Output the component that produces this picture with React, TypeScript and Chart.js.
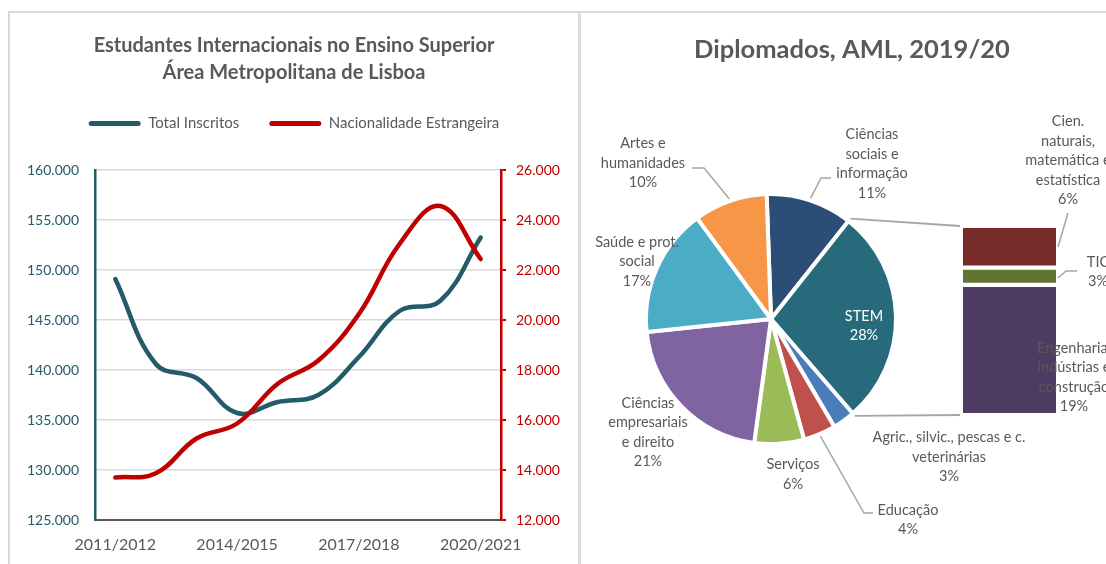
import React, { useEffect, useRef } from 'react';
import { Chart, registerables } from 'chart.js';

Chart.register(...registerables);

// ---------- Left chart data ----------
const years = [
  '2011/2012', '2012/2013', '2013/2014', '2014/2015', '2015/2016',
  '2016/2017', '2017/2018', '2018/2019', '2019/2020', '2020/2021',
];
const totalInscritos = [149100, 140600, 139200, 135700, 136800, 137500, 141300, 145900, 146900, 153250];
const nacionalidadeEstrangeira = [13700, 13870, 15260, 15860, 17450, 18380, 20240, 23040, 24560, 22440];
const leftTitle = ['Estudantes Internacionais no Ensino Superior', 'Área Metropolitana de Lisboa'];
const seriesNames = ['Total Inscritos', 'Nacionalidade Estrangeira'];
const leftAxisMin = 125000;
const leftAxisMax = 160000;
const leftAxisStep = 5000;
const rightAxisMin = 12000;
const rightAxisMax = 26000;
const rightAxisStep = 2000;

// ---------- Right chart data ----------
const rightTitle = 'Diplomados, AML, 2019/20';
const areas = [
  'Ciências\nsociais e\ninformação',
  'STEM',
  'Agric., silvic., pescas e c.\nveterinárias',
  'Educação',
  'Serviços',
  'Ciências\nempresariais\ne direito',
  'Saúde e prot.\nsocial',
  'Artes e\nhumanidades',
];
const areaShares = [11.2, 28.0, 2.9, 4.2, 6.4, 21.2, 16.6, 9.5];
const stemParts = ['Engenharia,\nindústrias e\nconstrução', 'TIC', 'Cien.\nnaturais,\nmatemática e\nestatística'];
const stemShares = [19.4, 2.6, 6.0];

// ---------- Styles ----------
const FONT = 'Lato';
const GRAY = '#595959';
const TEAL = '#245B69';
const RED = '#C00000';
const LEADER = '#A6A6A6';
const areaColors = ['#2C4D75', '#276A7B', '#4A7EBB', '#C0504D', '#9BBB59', '#8064A2', '#4BACC6', '#F79646'];
const stemColors = ['#4D3B62', '#5F7530', '#772C2A'];

const fmt = (v: number) => String(Math.round(v)).replace(/\B(?=(\d{3})+(?!\d))/g, '.');
const sum = (a: number[]) => a.reduce((s, v) => s + v, 0);

// label layout relative to pie centre (px)
const pieLabelLayout: { dx: number; dy: number; color?: string; leader?: number[][] }[] = [
  { dx: 101, dy: -155, leader: [[50, -141], [60, -141]] },
  { dx: 93, dy: 7, color: '#FFFFFF' },
  { dx: 178, dy: 138 },
  { dx: 137, dy: 201, leader: [[93, 194], [102, 194]] },
  { dx: 22, dy: 155.5 },
  { dx: -123, dy: 113.5 },
  { dx: -134, dy: -57.5 },
  { dx: -128, dy: -156, leader: [[-67, -151], [-79, -151]] },
];
// bar labels relative to the top-right corner of the stacked bar
const barLabelLayout: { dx: number; dy: number; leader?: number[][] }[] = [
  { dx: 18, dy: 149.5 },
  { dx: 42, dy: 44, leader: [[2, 50], [10, 43], [21, 43]] },
  { dx: 12, dy: -67.5, leader: [[2, 19], [12, -15]] },
];

const LINE_H = 19.5;

function drawLines(ctx: CanvasRenderingContext2D, lines: string[], cx: number, cy: number) {
  const h = lines.length * LINE_H;
  lines.forEach((t, k) => {
    ctx.fillText(t, cx, cy - h / 2 + LINE_H * (k + 0.5));
  });
}

const legendGapPlugin = {
  id: 'legendGap',
  beforeInit(chart: any) {
    const legend = chart.legend;
    if (!legend) return;
    const origFit = legend.fit;
    legend.fit = function () {
      origFit.call(this);
      this.height += 29;
    };
  },
};

export default function App() {
  const leftRef = useRef<HTMLCanvasElement>(null);
  const pieRef = useRef<HTMLCanvasElement>(null);
  const barRef = useRef<HTMLCanvasElement>(null);

  useEffect(() => {
    Chart.defaults.font.family = FONT;
    const lineChart = new Chart(leftRef.current as HTMLCanvasElement, {
      type: 'line',
      data: {
        labels: years,
        datasets: [
          {
            label: seriesNames[0],
            data: totalInscritos,
            borderColor: TEAL,
            backgroundColor: TEAL,
            borderWidth: 4.5,
            pointRadius: 0,
            tension: 0.4,
            yAxisID: 'y',
            order: 1,
            borderCapStyle: 'round',
          },
          {
            label: seriesNames[1],
            data: nacionalidadeEstrangeira,
            borderColor: RED,
            backgroundColor: RED,
            borderWidth: 4.5,
            pointRadius: 0,
            tension: 0.4,
            yAxisID: 'y1',
            order: 0,
            borderCapStyle: 'round',
          },
        ],
      },
      options: {
        responsive: false,
        animation: false,
        layout: { padding: 0 },
        plugins: {
          tooltip: { enabled: false },
          title: {
            display: true,
            text: leftTitle,
            color: GRAY,
            font: { family: FONT, size: 20, weight: 'bold', lineHeight: 1.35 },
            padding: { top: 18, bottom: 0 },
          },
          legend: {
            display: true,
            position: 'top',
            labels: {
              boxWidth: 52,
              boxHeight: 5,
              useBorderRadius: true,
              borderRadius: 2.5,
              padding: 30,
              color: GRAY,
              font: { family: FONT, size: 15 },
              generateLabels: (chart: any) =>
                chart.data.datasets.map((ds: any, i: number) => ({
                  text: ds.label,
                  fillStyle: ds.borderColor,
                  strokeStyle: ds.borderColor,
                  lineWidth: 0,
                  hidden: false,
                  datasetIndex: i,
                  borderRadius: 2.5,
                  fontColor: GRAY,
                })),
            },
          },
        },
        scales: {
          x: {
            offset: true,
            grid: { display: false, drawTicks: false, offset: true },
            border: { display: true, color: GRAY, width: 2 },
            ticks: {
              autoSkip: false,
              maxRotation: 0,
              color: GRAY,
              padding: 15,
              font: { family: FONT, size: 16 },
              callback: (_v: any, i: number) => (i % 3 === 0 ? years[i] : ''),
            },
            afterFit: (s: any) => {
              s.height = 44;
            },
          },
          y: {
            position: 'left',
            min: leftAxisMin,
            max: leftAxisMax,
            grid: { color: '#D9D9D9', lineWidth: 1.5, drawTicks: false },
            border: { display: true, color: TEAL, width: 2.5 },
            ticks: {
              stepSize: leftAxisStep,
              color: TEAL,
              padding: 16,
              font: { family: FONT, size: 14 },
              callback: (v: any) => fmt(Number(v)),
            },
            afterFit: (s: any) => {
              s.width = 85;
            },
          },
          y1: {
            position: 'right',
            min: rightAxisMin,
            max: rightAxisMax,
            grid: { drawOnChartArea: false, drawTicks: true, tickLength: 5, color: RED, lineWidth: 2 },
            border: { display: true, color: RED, width: 2.5 },
            ticks: {
              stepSize: rightAxisStep,
              color: RED,
              padding: 10,
              font: { family: FONT, size: 14 },
              callback: (v: any) => fmt(Number(v)),
            },
            afterFit: (s: any) => {
              s.width = 77;
            },
          },
        },
      },
      plugins: [legendGapPlugin],
    } as any);

    const pieTotal = sum(areaShares);

    const piePlugin = {
      id: 'pieLabels',
      afterDatasetsDraw(chart: any) {
        const ctx: CanvasRenderingContext2D = chart.ctx;
        const meta = chart.getDatasetMeta(0);
        ctx.save();
        ctx.fillStyle = GRAY;
        ctx.textAlign = 'center';
        ctx.textBaseline = 'middle';
        ctx.font = `bold 25.5px ${FONT}`;
        ctx.fillText(rightTitle, 270, 36);
        ctx.font = `14.5px ${FONT}`;
        meta.data.forEach((arc: any, i: number) => {
          const p = arc.getProps(['x', 'y', 'outerRadius', 'startAngle', 'endAngle'], true);
          const L = pieLabelLayout[i];
          if (L.leader) {
            const mid = (p.startAngle + p.endAngle) / 2;
            ctx.strokeStyle = LEADER;
            ctx.lineWidth = 1.5;
            ctx.beginPath();
            ctx.moveTo(p.x + Math.cos(mid) * (p.outerRadius + 2), p.y + Math.sin(mid) * (p.outerRadius + 2));
            L.leader.forEach(([dx, dy]) => ctx.lineTo(p.x + dx, p.y + dy));
            ctx.stroke();
          }
          const pct = Math.round((areaShares[i] / pieTotal) * 100);
          ctx.fillStyle = L.color || GRAY;
          drawLines(ctx, [...areas[i].split('\n'), pct + '%'], p.x + L.dx, p.y + L.dy);
        });
        ctx.restore();
      },
    };

    const pieChart = new Chart(pieRef.current as HTMLCanvasElement, {
      type: 'pie',
      data: {
        labels: areas,
        datasets: [
          {
            data: areaShares,
            backgroundColor: areaColors,
            borderColor: '#FFFFFF',
            borderWidth: 4,
          },
        ],
      },
      options: {
        responsive: false,
        animation: false,
        rotation: -2,
        layout: { padding: { left: 62, right: 224, top: 178, bottom: 118 } },
        plugins: { legend: { display: false }, tooltip: { enabled: false }, title: { display: false } },
      },
      plugins: [piePlugin],
    } as any);

    const barPlugin = {
      id: 'barLabels',
      afterDatasetsDraw(chart: any) {
        const ctx: CanvasRenderingContext2D = chart.ctx;
        const bottomBar = chart.getDatasetMeta(0).data[0].getProps(['x', 'y', 'base', 'width'], true);
        const topBar = chart.getDatasetMeta(stemParts.length - 1).data[0].getProps(['x', 'y', 'base', 'width'], true);
        const barLeft = topBar.x - topBar.width / 2;
        const barRight = topBar.x + topBar.width / 2;
        const barTop = topBar.y;
        const barBottom = bottomBar.base;

        ctx.save();
        // connectors from STEM slice to bar
        const stemIdx = areas.indexOf('STEM');
        const arc = pieChart.getDatasetMeta(0).data[stemIdx] as any;
        const a = arc.getProps(['x', 'y', 'outerRadius', 'startAngle', 'endAngle'], true);
        const r = a.outerRadius + 3;
        ctx.strokeStyle = LEADER;
        ctx.lineWidth = 1.8;
        ctx.beginPath();
        ctx.moveTo(a.x + Math.cos(a.startAngle) * r, a.y + Math.sin(a.startAngle) * r);
        ctx.lineTo(barLeft - 3, barTop - 2);
        ctx.moveTo(a.x + Math.cos(a.endAngle) * r, a.y + Math.sin(a.endAngle) * r);
        ctx.lineTo(barLeft - 3, barBottom + 2);
        ctx.stroke();

        // labels
        ctx.textAlign = 'center';
        ctx.textBaseline = 'middle';
        ctx.font = `14.5px ${FONT}`;
        ctx.lineWidth = 1.5;
        stemParts.forEach((name, i) => {
          const L = barLabelLayout[i];
          if (L.leader) {
            ctx.beginPath();
            L.leader.forEach(([dx, dy], k) => {
              if (k === 0) ctx.moveTo(barRight + dx, barTop + dy);
              else ctx.lineTo(barRight + dx, barTop + dy);
            });
            ctx.stroke();
          }
          const pct = Math.round((stemShares[i] / pieTotal) * 100);
          ctx.fillStyle = GRAY;
          drawLines(ctx, [...name.split('\n'), pct + '%'], barRight + L.dx, barTop + L.dy);
        });
        ctx.restore();
      },
    };

    const stemTotal = sum(stemShares);
    const barChart = new Chart(barRef.current as HTMLCanvasElement, {
      type: 'bar',
      data: {
        labels: ['STEM'],
        datasets: stemParts.map((name, i) => ({
          label: name,
          data: [stemShares[i]],
          backgroundColor: stemColors[i],
          borderColor: '#FFFFFF',
          borderSkipped: false,
          borderWidth:
            i === 0 ? { top: 2.5, bottom: 0, left: 0, right: 0 }
            : i === stemParts.length - 1 ? { top: 0, bottom: 2.5, left: 0, right: 0 }
            : { top: 2.5, bottom: 2.5, left: 0, right: 0 },
          categoryPercentage: 1,
          barPercentage: 1,
        })),
      },
      options: {
        responsive: false,
        animation: false,
        layout: { padding: { left: 381, right: 66, top: 214, bottom: 151 } },
        plugins: { legend: { display: false }, tooltip: { enabled: false }, title: { display: false } },
        scales: {
          x: { display: false, stacked: true },
          y: { display: false, stacked: true, min: 0, max: stemTotal },
        },
      },
      plugins: [barPlugin],
    } as any);

    return () => {
      lineChart.destroy();
      barChart.destroy();
      pieChart.destroy();
    };
  }, []);

  return (
    <div
      style={{
        position: 'fixed',
        left: 0,
        top: 0,
        width: 1106,
        height: 564,
        overflow: 'hidden',
        background: '#FFFFFF',
      }}
    >
      <div style={{ position: 'absolute', left: 8, top: 11, width: 1098, height: 2, background: '#D9D9D9' }} />
      <div style={{ position: 'absolute', left: 8, top: 11, width: 2, height: 553, background: '#D9D9D9' }} />
      <div style={{ position: 'absolute', left: 578, top: 11, width: 3, height: 553, background: '#DCDCDC' }} />
      <canvas ref={leftRef} width={568} height={550} style={{ position: 'absolute', left: 10, top: 14 }} />
      <canvas ref={pieRef} width={540} height={550} style={{ position: 'absolute', left: 582, top: 14 }} />
      <canvas ref={barRef} width={540} height={550} style={{ position: 'absolute', left: 582, top: 14 }} />
    </div>
  );
}
